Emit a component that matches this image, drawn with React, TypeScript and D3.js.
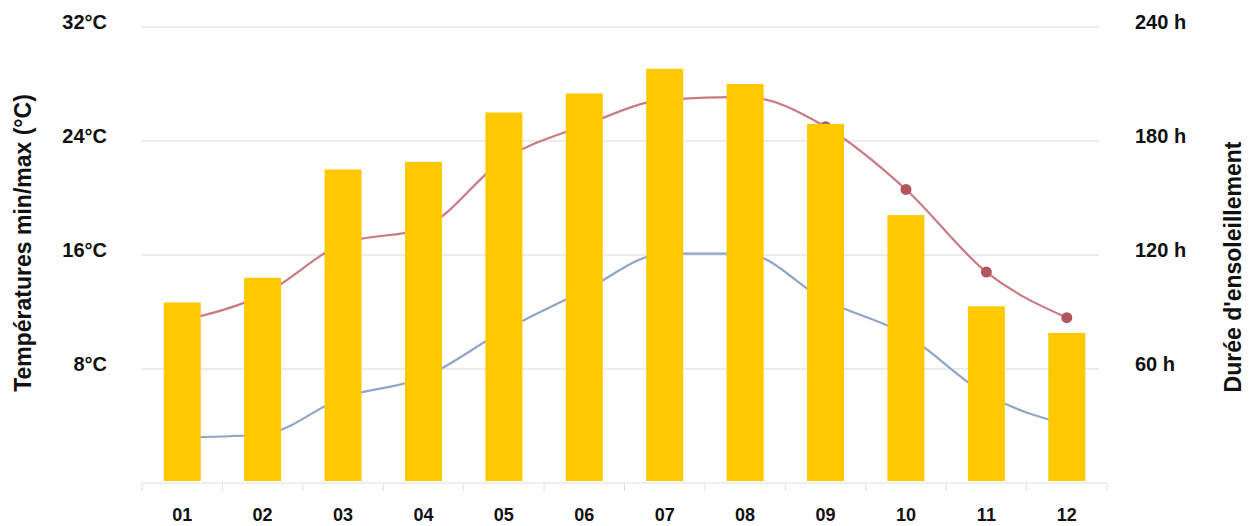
import * as d3 from "d3";

const months = ["01", "02", "03", "04", "05", "06", "07", "08", "09", "10", "11", "12"];
const sunHours = [95, 108, 165, 169, 195, 205, 218, 210, 189, 141, 93, 79];
const tempMax = [11.4, 13.2, 16.8, 17.9, 22.7, 25.1, 26.9, 27.1, 25.0, 20.6, 14.8, 11.6];
const tempMin = [3.2, 3.4, 6.0, 7.4, 10.7, 13.5, 16.1, 16.1, 12.8, 10.4, 6.2, 4.1];
const tempTicks = [8, 16, 24, 32];
const sunTicks = [60, 120, 180, 240];

const W = 1251;
const H = 526;
const plot = { left: 142, right: 1107, top: 27, bottom: 483 };
const font = "'Liberation Sans', Arial, sans-serif";

export default function App() {
  const x = d3.scaleBand<string>().domain(months).range([plot.left, plot.right]).paddingInner(0.54).paddingOuter(0.27);
  const yT = d3.scaleLinear().domain([0, 32]).range([plot.bottom, plot.top]);
  const yS = d3.scaleLinear().domain([0, 240]).range([plot.bottom, plot.top]);
  const cx = (m: string) => (x(m) as number) + x.bandwidth() / 2;

  const line = d3
    .line<number>()
    .x((_, i) => cx(months[i]))
    .y((d) => yT(d))
    .curve(d3.curveMonotoneX);

  const step = x.step();
  const tickXs = months.map((m) => cx(m) - step / 2).concat([cx(months[11]) + step / 2]);

  return (
    <div style={{ position: "absolute", left: 0, top: 0 }}>
      <svg width={W} height={H} style={{ display: "block", background: "#fff" }} fontFamily={font}>
        {/* grid */}
        {tempTicks.map((t) => (
          <line key={t} x1={plot.left} x2={plot.right - 8} y1={yT(t)} y2={yT(t)} stroke="#ececec" strokeWidth={2} />
        ))}

        {/* x axis */}
        <line x1={plot.left} x2={plot.right} y1={plot.bottom} y2={plot.bottom} stroke="#d8e0ee" strokeWidth={1} />
        {tickXs.map((t, i) => (
          <line key={i} x1={t} x2={t} y1={plot.bottom} y2={plot.bottom + 8} stroke="#d8e0ee" strokeWidth={1} />
        ))}

        {/* temperature lines (behind bars) */}
        <path d={line(tempMin) || ""} fill="none" stroke="#8fa6c7" strokeWidth={2.2} />
        <path d={line(tempMax) || ""} fill="none" stroke="#c97a82" strokeWidth={2.2} />
        {tempMax.map((v, i) => (
          <circle key={"mx" + i} cx={cx(months[i])} cy={yT(v)} r={5.5} fill="#b3545e" />
        ))}

        {/* sunshine bars */}
        {sunHours.map((v, i) => (
          <rect
            key={months[i]}
            x={x(months[i])}
            y={yS(v)}
            width={x.bandwidth()}
            height={plot.bottom - 2 - yS(v)}
            fill="#ffc800"
          />
        ))}

        {/* left axis labels */}
        {tempTicks.map((t) => (
          <text key={t} x={107} y={yT(t) + 2} textAnchor="end" fontSize={20} fontWeight="bold" fill="#111">
            {`${t}°C`}
          </text>
        ))}
        {/* right axis labels */}
        {sunTicks.map((t) => (
          <text key={t} x={1135} y={yS(t) + 2} textAnchor="start" fontSize={20} fontWeight="bold" fill="#111">
            {`${t} h`}
          </text>
        ))}

        {/* month labels */}
        {months.map((m) => (
          <text key={m} x={cx(m)} y={521} textAnchor="middle" fontSize={18} fontWeight="bold" fill="#111">
            {m}
          </text>
        ))}

        {/* axis titles */}
        <text
          transform={`translate(31,243) rotate(-90)`}
          textAnchor="middle"
          fontSize={23}
          fontWeight="bold"
          fill="#111"
        >
          Températures min/max (°C)
        </text>
        <text
          transform={`translate(1241,267) rotate(-90)`}
          textAnchor="middle"
          fontSize={23}
          fontWeight="bold"
          fill="#111"
        >
          Durée d'ensoleillement
        </text>
      </svg>
    </div>
  );
}
